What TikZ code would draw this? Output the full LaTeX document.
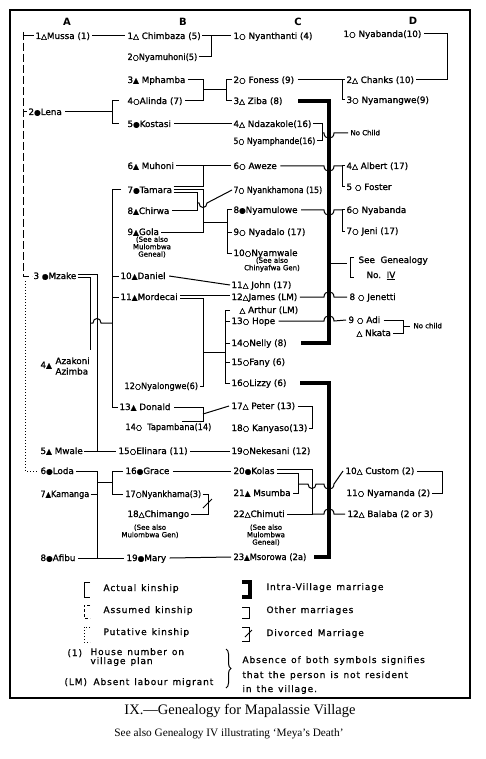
\documentclass[tikz,border=0pt]{standalone}
\usepackage{fontspec}
\usepackage{graphicx}
\setmainfont{DejaVu Sans}
\newfontfamily\nmf[FakeBold=1]{DejaVu Sans}
\newfontfamily\capf{Liberation Serif}
\newfontfamily\legf[LetterSpace=10,FakeBold=0.8]{DejaVu Sans}
\usetikzlibrary{decorations.pathreplacing}
\newcommand\To{{\fontsize{7.6}{7.6}\selectfont △}}
\newcommand\Tf{{\fontsize{7.6}{7.6}\selectfont ▲}}
\newcommand\Co{{\fontsize{7.6}{7.6}\selectfont ○}}
\newcommand\Cf{{\fontsize{7.6}{7.6}\selectfont ●}}
\newcommand\wsp{\hspace{5pt}}
\newcommand\nx[2]{\scalebox{#1}[1]{#2}}
\begin{document}
\begin{tikzpicture}[x=1pt,y=-1pt,line width=1pt,
 nm/.style={anchor=west,inner sep=0pt,font=\nmf\fontsize{8.8}{9}\selectfont,text height=6.5pt,text depth=0.5pt},
 nms/.style={anchor=west,inner sep=0pt,font=\nmf\fontsize{7}{7}\selectfont,text height=5pt,text depth=0.5pt},
 note/.style={anchor=north,inner sep=0pt,font=\nmf\fontsize{7}{7.4}\selectfont,align=center},
 hdr/.style={inner sep=0pt,font=\bfseries\fontsize{10}{10}\selectfont},
 lg/.style={anchor=west,inner sep=0pt,font=\legf\fontsize{9}{10}\selectfont,text height=6.5pt,text depth=0.5pt},
 thk/.style={line width=4.2pt},
 dsh/.style={dash pattern=on 8pt off 3pt},
 dshs/.style={dash pattern=on 3pt off 2pt},
 dts/.style={line width=1pt,dash pattern=on 1pt off 2pt}]
\useasboundingbox (0,0) rectangle (485,759);
\fill[white] (0,0) rectangle (485,759);
\draw[line width=1.6pt] (10,10) rectangle (470,698);

% headers
\node[hdr] (hA) at (67,22) {A};
\node[hdr] (hB) at (183,22) {B};
\node[hdr] (hC) at (298,22) {C};
\node[hdr] (hD) at (413,21) {D};

% column A
\node[nm] (mussa) at (35,36) {1\To Mussa (1)};
\node[nm] (lena) at (28,112) {2\Cf Lena};
\node[nm] (mzake) at (33,276) {3 \Cf Mzake};
\node[nm] (azk) at (40,365) {4\Tf};
\node[anchor=west,inner sep=0pt,font=\nmf\fontsize{8.8}{10.5}\selectfont,align=left] (azk2) at (55,366) {Azakoni\\Azimba};
\node[nm] (mwale) at (40,451) {5\Tf\ Mwale};
\node[nm] (loda) at (40,471) {6\Cf Loda};
\node[nm] (kamanga) at (40,494) {\nx{0.92}{7\Tf Kamanga}};
\node[nm] (afibu) at (40,558) {8\Cf Afibu};

% column B
\node[nm] (chimbaza) at (127,36) {1\To\ Chimbaza (5)};
\node[nm] (nyamuhoni) at (127,57) {\nx{0.93}{2\Co Nyamuhoni(5)}};
\node[nm] (mphamba) at (127,80) {3\Tf\ Mphamba};
\node[nm] (alinda) at (127,101) {4\Co Alinda (7)};
\node[nm] (kostasi) at (127,124) {5\Cf Kostasi};
\node[nm] (muhoni) at (127,166) {6\Tf\ Muhoni};
\node[nm] (tamara) at (127,190) {7\Cf Tamara};
\node[nm] (chirwa) at (127,211) {8\Tf Chirwa};
\node[nm] (gola) at (127,232) {9\Tf Gola};
\node[note] (golanote) at (152,236) {(See also\\Mulombwa\\Geneal)};
\node[nm] (daniel) at (120,276) {10\Tf Daniel};
\node[nm] (mordecai) at (120,297) {11\Tf Mordecai};
\node[nm] (nyalongwe) at (124,386) {\nx{0.93}{12\Co Nyalongwe(6)}};
\node[nm] (donald) at (119,407) {13\Tf\ Donald};
\node[nm] (tapambana) at (125,427) {\nx{0.93}{14\Co\ \ Tapambana(14)}};
\node[nm] (elinara) at (118,451) {15\Co Elinara (11)};
\node[nm] (grace) at (125,471) {16\Cf Grace};
\node[nm] (nyankhama) at (125,494) {\nx{0.91}{17\Co Nyankhama(3)}};
\node[nm] (chimango) at (127,514) {18\To Chimango};
\node[note] (chimnote) at (150,524) {(See also\\Mulombwa Gen)};
\node[nm] (mary) at (126,558) {19\Cf Mary};

% column C
\node[nm] (nyanthanti) at (233,36) {1\Co\ Nyanthanti (4)};
\node[nm] (foness) at (233,80) {2\Co\ Foness (9)};
\node[nm] (ziba) at (233,101) {3\To\ Ziba (8)};
\node[nm] (ndazakole) at (233,124) {4\To\ Ndazakole(16)};
\node[nm] (nyamphande) at (233,141) {\nx{0.89}{5\Co\ Nyamphande(16)}};
\node[nm] (aweze) at (233,166) {6\Co\ Aweze};
\node[nm] (nyankhamona) at (233,190) {\nx{0.89}{7\Co\ Nyankhamona (15)}};
\node[nm] (nyamulowe) at (233,210) {8\Cf Nyamulowe};
\node[nm] (nyadalo) at (233,232) {9\Co\ Nyadalo (17)};
\node[nm] (nyamwale) at (233,253) {10\Co Nyamwale};
\node[note] (nyamwnote) at (272,257) {(See also\\Chinyafwa Gen)};
\node[nm] (john) at (231,285) {11\To\ John (17)};
\node[nm] (james) at (231,297) {12\To James (LM)};
\node[nm] (arthur) at (239,310) {\To\ Arthur (LM)};
\node[nm] (hope) at (231,321) {13\Co\ Hope};
\node[nm] (nelly) at (231,343) {14\Co Nelly (8)};
\node[nm] (fany) at (231,362) {15\Co Fany (6)};
\node[nm] (lizzy) at (231,383) {16\Co Lizzy (6)};
\node[nm] (peter) at (231,406) {17\To\ Peter (13)};
\node[nm] (kanyaso) at (231,428) {18\Co\ Kanyaso(13)};
\node[nm] (nekesani) at (231,451) {19\Co Nekesani (12)};
\node[nm] (kolas) at (233,471) {20\Cf Kolas};
\node[nm] (msumba) at (233,493) {21\Tf\ Msumba};
\node[nm] (chimuti) at (233,514) {22\To Chimuti};
\node[note] (chimutinote) at (266,524) {(See also\\Mulombwa\\Geneal)};
\node[nm] (msorowa) at (233,557) {\nx{0.95}{23\Tf Msorowa (2a)}};

% column D
\node[nm] (nyabanda) at (343,34) {1\Co\ Nyabanda(10)};
\node[nm] (chanks) at (346,80) {2\To\ Chanks (10)};
\node[nm] (nyamangwe) at (346,100) {3\Co\ Nyamangwe(9)};
\node[nms] (nochildA) at (350,133) {No Child};
\node[nm] (albert) at (346,166) {4\To\ Albert (17)};
\node[nm] (foster) at (346,187) {5 \Co\ Foster};
\node[nm] (nyabanda2) at (346,210) {6\Co\ Nyabanda};
\node[nm] (jeni) at (346,231) {7\Co\ Jeni (17)};
\node[nm] (seegen) at (358,260) {See\ \ Genealogy};
\node[nm] (seegen2) at (366,275) {No.\ \ \underline{IV}};
\node[nm] (jenetti) at (349,297) {8\ \Co\ Jenetti};
\node[nm] (adi) at (348,320) {9\ \Co\ Adi};
\node[nm] (nkata) at (356,333) {\To\ Nkata};
\node[nms] (nochildB) at (413,326) {No child};
\node[nm] (custom) at (345,471) {10\To\ Custom (2)};
\node[nm] (nyamanda) at (346,493) {11\Co\ Nyamanda (2)};
\node[nm] (balaba) at (347,514) {12\To\ Balaba (2 or 3)};

% ---- kinship lines, column A
\draw[dsh] (23,32) -- (23,276) -- ([xshift=-1pt]mzake.west);
\draw (23,36) -- ([xshift=-1pt]mussa.west);
\draw (23,112) -- ([xshift=-1pt]lena.west);
\draw[dts] (25,281) -- (25,471) -- ([xshift=-2pt]loda.west);

% Mussa
\draw ([xshift=2pt]mussa.east) -- ([xshift=-2pt]chimbaza.west);
\draw ([xshift=1pt]chimbaza.east) -- (211,36) -- (211,57) -- ([xshift=1pt]nyamuhoni.east);
\draw (211,36) -- ([xshift=-2pt]nyanthanti.west);
% Lena
\draw ([xshift=3pt]lena.east) -- (112,112);
\draw ([xshift=-8pt]alinda.west) -- (112,101) -- (112,124) -- ([xshift=-8pt]kostasi.west);
% Mphamba - Alinda
\draw ([xshift=2pt]mphamba.east) -- (203,80) -- (203,101) -- ([xshift=2pt]alinda.east);
\draw (203,90) -- (226,90);
\draw ([xshift=-1pt]foness.west) -- (226,80) -- (226,101) -- ([xshift=-1pt]ziba.west);
% Kostasi
\draw ([xshift=3pt]kostasi.east) -- ([xshift=-1pt]ndazakole.west);
% Nyabanda - Chanks
\draw ([xshift=2pt]nyabanda.east) -- (447,34) -- (447,80) -- ([xshift=2pt]chanks.east);
\draw ([xshift=3pt]foness.east) -- (342,80);
\draw ([xshift=-1pt]chanks.west) -- (342,80) -- (342,100) -- ([xshift=-1pt]nyamangwe.west);
% thick intra-village marriages
\draw[thk] (298,101) -- (329,101) -- (329,343) -- (301,343);
\draw[thk] (300,383) -- (329,383) -- (329,557) -- (314,557);
% Ndazakole - Nyamphande
\draw ([xshift=1pt]ndazakole.east) -- (322,124) -- (322,141) -- ([xshift=1pt]nyamphande.east);
\draw (322,133) -- (324,133) .. controls (324,140) and (334,140) .. (334,133) -- ([xshift=-2pt]nochildA.west);
% Muhoni - Tamara - Chirwa - Gola
\draw ([xshift=2pt]muhoni.east) -- ([xshift=-2pt]aweze.west);
\draw (203,166) -- (203,187);
\draw ([xshift=1pt,yshift=3pt]tamara.east) -- (203,187);
\draw ([xshift=1pt]tamara.east) -- (203,190) -- (203,232) -- ([xshift=2pt]gola.east);
\draw ([xshift=1pt,yshift=-3pt]tamara.east) -- (197,193) -- (197,211) -- ([xshift=2pt]chirwa.east);
\draw (197,203) -- (199,203) .. controls (199,209) and (207,209) .. (207,203) -- ([xshift=-1pt]nyankhamona.west);
\draw (203,222) -- (227,222);
\draw ([xshift=-1pt]nyamulowe.west) -- (227,210) -- (227,253) -- ([xshift=-1pt]nyamwale.west);
\draw (227,232) -- ([xshift=-1pt]nyadalo.west);
% Aweze
\draw ([xshift=3pt]aweze.east) -- (324,166) .. controls (324,173) and (334,173) .. (334,166) -- (342,166);
\draw ([xshift=-1pt]albert.west) -- (342,166) -- (342,187) -- ([xshift=-1pt]foster.west);
% Nyamulowe
\draw ([xshift=3pt]nyamulowe.east) -- (324,210) .. controls (324,217) and (334,217) .. (334,210) -- (342,210);
\draw ([xshift=-1pt]nyabanda2.west) -- (342,210) -- (342,231) -- ([xshift=-1pt]jeni.west);
% See Genealogy
\draw (329,263) -- (347,263);
\draw (354,257) -- (350,257) -- (350,277) -- (354,277);
% Daniel - John
\draw ([xshift=3pt]daniel.east) -- ([xshift=-1pt]john.west);
% Mordecai
\draw ([xshift=2pt,yshift=1.5pt]mordecai.east) -- ([xshift=-1pt,yshift=1.5pt]james.west);
\draw ([xshift=2pt,yshift=-1.5pt]mordecai.east) -- (203,298.5) -- (203,386) -- ([xshift=1pt]nyalongwe.east);
\draw (203,352) -- (225,352);
\draw ([xshift=-9pt]arthur.west) -- (225,310) -- (225,383) -- ([xshift=-1pt]lizzy.west);
\draw (225,321) -- ([xshift=-1pt]hope.west);
\draw (225,343) -- ([xshift=-1pt]nelly.west);
\draw (225,362) -- ([xshift=-1pt]fany.west);
% James - Jenetti
\draw ([xshift=2pt]james.east) -- (324,297) .. controls (324,290) and (334,290) .. (334,297) -- ([xshift=-2pt]jenetti.west);
% Hope - Adi
\draw ([xshift=3pt]hope.east) -- (324,321) .. controls (324,314) and (334,314) .. (334,321) -- ([xshift=-2pt]adi.west);
\draw ([xshift=3pt]adi.east) -- (403,320) -- (403,333) -- ([xshift=2pt]nkata.east);
\draw (403,326) -- ([xshift=-3pt]nochildB.west);
% Mzake unions
\draw ([xshift=1pt,yshift=1.5pt]mzake.east) -- (97,274.5) -- (97,451) -- ([xshift=-2pt]elinara.west);
\draw ([xshift=1pt]mwale.east) -- (97,451);
\draw ([xshift=1pt,yshift=-1.5pt]mzake.east) -- (90,277.5) -- (90,350);
\draw (90,323) -- (93,323) .. controls (93,317) and (101,317) .. (101,323) -- (112,323);
\draw ([xshift=-6pt]tamara.west) -- (112,190) -- (112,407) -- ([xshift=-1pt]donald.west);
\draw (112,276) -- ([xshift=-1pt]daniel.west);
\draw (112,297) -- ([xshift=-1pt]mordecai.west);
% Donald - Tapambana
\draw ([xshift=3pt]donald.east) -- (203,407) -- (203,421) -- (182,421);
\draw (203,414) -- ([xshift=-2pt]peter.west);
\draw ([xshift=2pt]peter.east) -- (312,406) -- (312,428) -- ([xshift=1pt]kanyaso.east);
% Elinara - Nekesani
\draw ([xshift=2pt]elinara.east) -- ([xshift=-1pt]nekesani.west);
% Loda - Kamanga - Afibu
\draw ([xshift=2pt]loda.east) -- (97,471) -- (97,558) -- ([xshift=-2pt]mary.west);
\draw ([xshift=2pt]afibu.east) -- (97,558);
\draw ([xshift=1pt]kamanga.east) -- (97,494);
\draw (97,482) -- (112,482);
\draw ([xshift=-2pt]grace.west) -- (112,471) -- (112,494) -- ([xshift=-2pt]nyankhama.west);
\draw ([xshift=3pt]grace.east) -- ([xshift=-2pt]kolas.west);
\draw ([xshift=1pt]nyankhama.east) -- (208,494) -- (208,514) -- ([xshift=1pt]chimango.east);
\draw (203,508) -- (212,499);
\draw ([xshift=3pt]mary.east) -- ([xshift=-2pt]msorowa.west);
% Kolas unions
\draw ([xshift=2pt,yshift=2pt]kolas.east) -- (312,469) -- (312,514) -- ([xshift=2pt]chimuti.east);
\draw ([xshift=2pt,yshift=-2pt]kolas.east) -- (298,473) -- (298,493) -- ([xshift=2pt]msumba.east);
\draw (298,484) -- (308,484) .. controls (308,490) and (316,490) .. (316,484) -- (324,484) .. controls (324,491) and (334,491) .. (334,484) -- ([xshift=-2pt]custom.west);
\draw (312,514) -- (324,514) .. controls (324,507) and (334,507) .. (334,514) -- ([xshift=-2pt]balaba.west);
\draw ([xshift=2pt]custom.east) -- (442,471) -- (442,493) -- ([xshift=1pt]nyamanda.east);

% ---- legend
\draw (90,582) -- (84,582) -- (84,597) -- (90,597);
\draw[dshs] (90,605) -- (84,605) -- (84,618) -- (90,618);
\draw[dts] (90,627) -- (84,627) -- (84,642) -- (90,642);
\node[lg] (lg1) at (103,588) {Actual\wsp kinship};
\node[lg] (lg2) at (103,610) {Assumed\wsp kinship};
\node[lg] (lg3) at (103,632) {Putative\wsp kinship};
\node[lg] (lg4) at (67,653) {(1)};
\node[lg] (lg5) at (90,652) {House\wsp number\wsp on};
\node[lg] (lg6) at (90,661) {village\wsp plan};
\node[lg] (lg7) at (64,682) {(LM)};
\node[lg] (lg8) at (93,682) {Absent\wsp labour\wsp migrant};
\draw[decorate,decoration={brace,amplitude=5pt}] (226,649) -- (226,688);
\draw[line width=3.5pt] (242,582) -- (250,582) -- (250,597) -- (242,597);
\draw (242,607) -- (249,607) -- (249,618) -- (242,618);
\draw (242,627) -- (249,627) -- (249,641) -- (242,641);
\draw (245,637) -- (252,630);
\node[lg] (lg9) at (266,587) {Intra-Village\wsp marriage};
\node[lg] (lg10) at (266,610) {Other\wsp marriages};
\node[lg] (lg11) at (266,633) {Divorced\wsp Marriage};
\node[lg] (lg12) at (242,660) {Absence\wsp of\wsp both\wsp symbols\wsp signifies};
\node[lg] (lg13) at (242,675) {that\wsp the\wsp person\wsp is\wsp not\wsp resident};
\node[lg] (lg14) at (242,689) {in\wsp the\wsp village.};

% caption
\node[font=\capf\fontsize{14.5}{15}\selectfont,inner sep=0pt] (cap1) at (240,711) {IX.—Genealogy for Mapalassie Village};
\node[font=\capf\fontsize{11.3}{12}\selectfont,inner sep=0pt] (cap2) at (229,734) {See also Genealogy IV illustrating ‘Meya’s Death’};
\end{tikzpicture}
\end{document}
